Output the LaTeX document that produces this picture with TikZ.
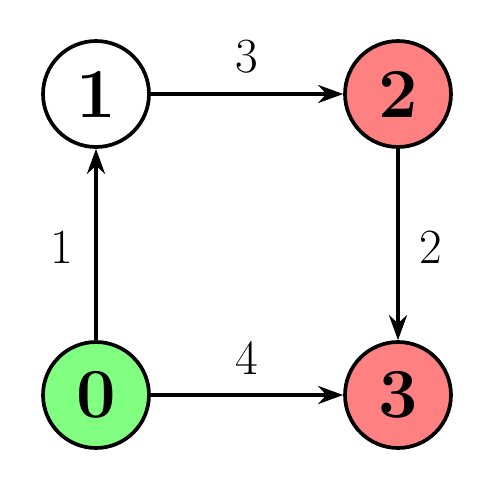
\documentclass[tikz,border=0pt]{standalone}
\usetikzlibrary{arrows.meta}
\begin{document}
\begin{tikzpicture}[x=0.02cm,y=-0.02cm,
  vert/.style={circle,draw=black,line width=2.1pt,minimum size=2.12cm,inner sep=0pt,font=\fontsize{40}{44}\selectfont\bfseries},
  edge/.style={line width=2.1pt,-{Stealth[length=0.5cm,width=0.36cm]}},
  wlabel/.style={font=\fontsize{28}{32}\selectfont}]
\useasboundingbox (0,0) rectangle (500,487);
\node[vert,fill=white] (v1) at (96,94) {1};
\node[vert,fill=red!50] (v2) at (398,94) {2};
\node[vert,fill=green!50] (v0) at (96,395) {0};
\node[vert,fill=red!50] (v3) at (398,395) {3};
\draw[edge] (v1) -- (v2);
\draw[edge] (v0) -- (v1);
\draw[edge] (v2) -- (v3);
\draw[edge] (v0) -- (v3);
\node[wlabel] (l3) at (247,57) {3};
\node[wlabel] (l1) at (62,247) {1};
\node[wlabel] (l2) at (431,247) {2};
\node[wlabel] (l4) at (247,358) {4};
\end{tikzpicture}
\end{document}
